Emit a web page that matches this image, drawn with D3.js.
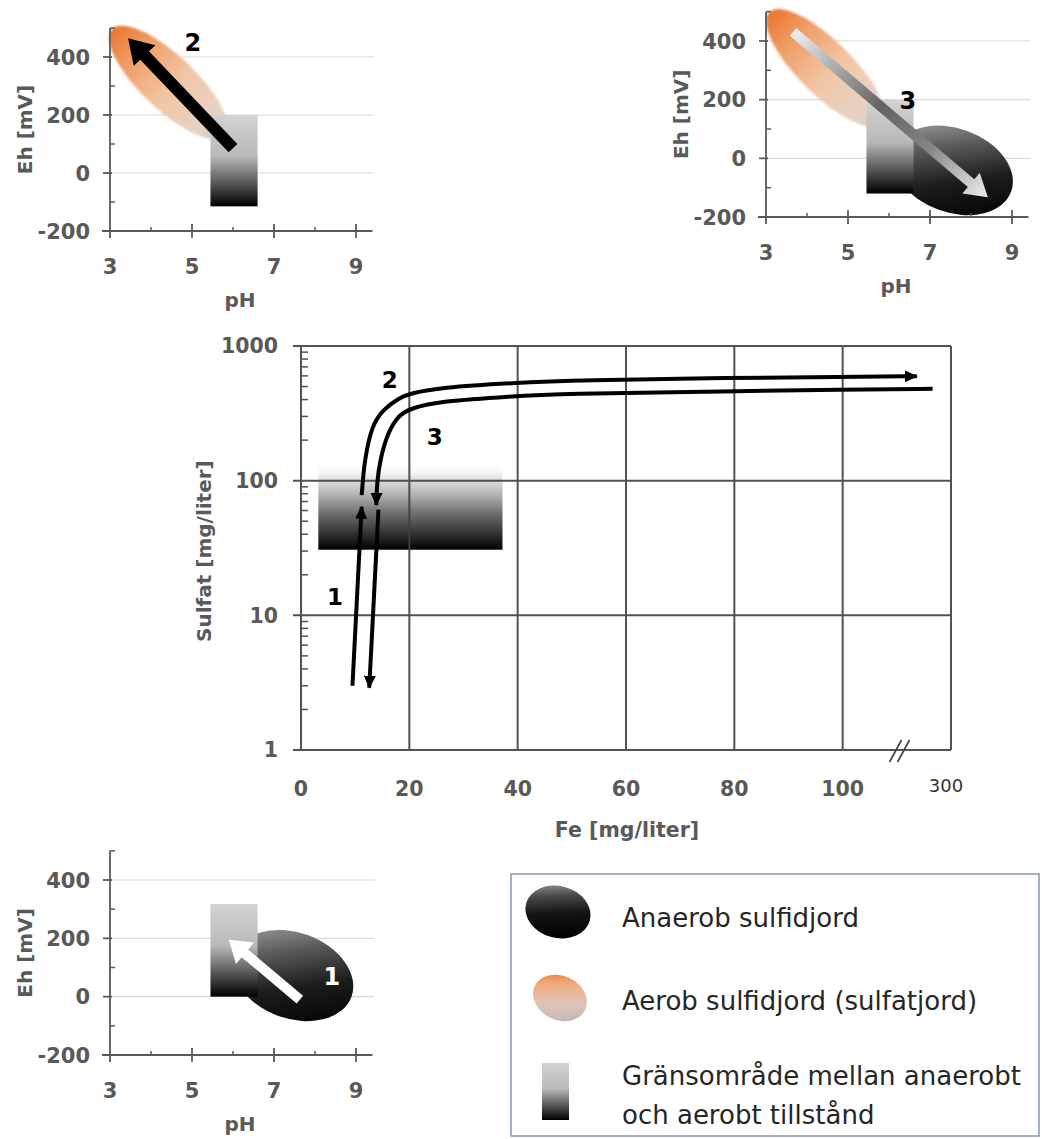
<!DOCTYPE html>
<html>
<head>
<meta charset="utf-8">
<script src="https://cdn.jsdelivr.net/npm/d3@7"></script>
<style>
  body { margin: 0; background: #fff; }
  svg { display: block; }
</style>
</head>
<body>
<div id="chart"></div>
<script>
// ---------- data ----------
// Eh-pH panels
const phTicks = [3, 5, 7, 9];
const phMinor = [4, 6, 8];
const ehTicks = [-200, 0, 200, 400];
const ehMinor = [-100, 100, 300, 500];
const ehGrid = [0, 200, 400];

// grey transition zone per panel: [pH min, pH max, Eh min, Eh max]
const zone2 = [5.45, 6.6, -115, 200];
const zone3 = [5.45, 6.6, -120, 200];
const zone1 = [5.45, 6.6, 0, 318];

// soil ellipses, given as the two ends of the long axis [pH, Eh]
const aerob2 = [[3.05, 496], [5.8, 128]];
const aerob3 = [[3.08, 498], [5.82, 118]];
const anaerob3 = [[6.14, 31], [8.98, -113]];
const anaerob1 = [[6.04, 145], [8.89, 0]];

// arrows [from, to] in [pH, Eh]
const arrow2 = [[6.0, 86], [3.44, 465]];
const arrow3 = [[3.66, 431], [8.41, -133]];
const arrow1 = [[7.63, -10], [5.9, 195]];

// step labels [pH, Eh]
const label2 = [5.02, 452];
const label3 = [6.46, 198];
const label1 = [8.41, 68];

// main chart: Fe vs sulfate
const feTicks = [0, 20, 40, 60, 80, 100];
const feBreak = 120;          // axis position shown as "300"
const feBreakLabel = "300";
const sulfatTicks = [1, 10, 100, 1000];
const zoneMain = [3.2, 37.2, 30.7, 135]; // Fe min, Fe max, S min, S max

const path1 = [[9.5, 3.0], [11.2, 64]];
const path2 = [[11.2, 78], [11.5, 110], [11.8, 143], [13.0, 253], [15.1, 337], [18.2, 414], [20.1, 443],
  [25.6, 491], [39.1, 532], [51.4, 557], [79.6, 580], [99.9, 588], [113.7, 597]];
const path3 = [[116.6, 481], [99.9, 476], [79.6, 461], [47.7, 441], [39.1, 424], [25.6, 389],
  [20.1, 343], [18.0, 305], [16.0, 227], [14.6, 143], [14.0, 95], [13.9, 66]];
const path3b = [[14.3, 61], [12.6, 2.9]];
const mainLabels = [["2", 16.4, 563], ["3", 24.7, 212], ["1", 6.3, 13.7]];

const legendItems = ["Anaerob sulfidjord", "Aerob sulfidjord (sulfatjord)",
  "Gränsområde mellan anaerobt", "och aerobt tillstånd"];

// ---------- setup ----------
const W = 1042, H = 1139;
const svg = d3.select("#chart").append("svg").attr("width", W).attr("height", H);
const defs = svg.append("defs");
const FONT = "'DejaVu Sans', sans-serif";
const GREY = "#595959";

function grad(id, stops, x2 = 0, y2 = 1, x1 = 0, y1 = 0) {
  const g = defs.append("linearGradient").attr("id", id)
    .attr("x1", x1).attr("y1", y1).attr("x2", x2).attr("y2", y2);
  stops.forEach(s => g.append("stop").attr("offset", s[0])
    .attr("stop-color", s[1]).attr("stop-opacity", s[2] == null ? 1 : s[2]));
}
grad("zoneGrad", [[0, "#d3d3d3"], [0.45, "#b9b9b9"], [0.75, "#555"], [1, "#000"]]);
grad("orangeGrad", [[0, "#e9762d"], [0.25, "#f0a06a"], [0.55, "#f2c6a6"], [0.85, "#e6d3c6"], [1, "#dac9bf"]], 1, 0);
grad("orangeLegGrad", [[0, "#ee8444"], [0.25, "#f0ad84"], [0.65, "#dcc4b9"], [1, "#c4b8b5"]], 0.75, 0.95, 0.2, 0.05);
grad("blackGrad", [[0, "#a6a6a6"], [0.3, "#5a5a5a"], [0.6, "#1c1c1c"], [1, "#000"]], 0.9, 1, 0.1, 0);
grad("blackLegGrad", [[0, "#9a9a9a"], [0.25, "#4a4a4a"], [0.55, "#151515"], [1, "#000"]], 0.6, 1, 0.2, 0);
grad("mainZoneGrad", [[0, "#ffffff", 0], [0.18, "#d6d6d6", 0.75], [0.55, "#777", 1], [1, "#000", 1]]);

defs.append("filter").attr("id", "soft").attr("x", -0.2).attr("y", -0.2)
  .attr("width", 1.4).attr("height", 1.4)
  .append("feGaussianBlur").attr("stdDeviation", 0.9);

function arrowPath(x1, y1, x2, y2, w, hw, hl) {
  const dx = x2 - x1, dy = y2 - y1, L = Math.hypot(dx, dy);
  const ux = dx / L, uy = dy / L, px = -uy, py = ux;
  const bx = x2 - ux * hl, by = y2 - uy * hl;
  const pts = [
    [x1 + px * w / 2, y1 + py * w / 2], [bx + px * w / 2, by + py * w / 2],
    [bx + px * hw / 2, by + py * hw / 2], [x2, y2],
    [bx - px * hw / 2, by - py * hw / 2], [bx - px * w / 2, by - py * w / 2],
    [x1 - px * w / 2, y1 - py * w / 2]];
  return "M" + pts.map(p => p.join(",")).join("L") + "Z";
}

// ---------- Eh-pH panels ----------
function panel(x0, yBottom, y400) {
  const x = d3.scaleLinear().domain([3, 9]).range([x0, x0 + 246]);
  const y = d3.scaleLinear().domain([-200, 400]).range([yBottom, y400]);
  const g = svg.append("g");
  const shapes = g.append("g");
  const axes = g.append("g");

  // grid
  g.insert("g", ":first-child").selectAll("line").data(ehGrid).join("line")
    .attr("x1", x(3) + 2).attr("x2", x(9.45)).attr("y1", d => y(d)).attr("y2", d => y(d))
    .attr("stroke", "#d9d9d9").attr("stroke-width", 1.2);

  // axes
  axes.append("line").attr("x1", x(3)).attr("x2", x(3)).attr("y1", y(500)).attr("y2", y(-200) + 7)
    .attr("stroke", GREY).attr("stroke-width", 1.8);
  axes.append("line").attr("x1", x(3) - 8).attr("x2", x(9.4)).attr("y1", y(-200)).attr("y2", y(-200))
    .attr("stroke", GREY).attr("stroke-width", 1.8);
  axes.selectAll(".yt").data(ehTicks).join("line")
    .attr("x1", x(3) - 7).attr("x2", x(3) + 2).attr("y1", d => y(d)).attr("y2", d => y(d))
    .attr("stroke", GREY).attr("stroke-width", 1.8);
  axes.selectAll(".ym").data(ehMinor).join("line")
    .attr("x1", x(3)).attr("x2", x(3) + 5).attr("y1", d => y(d)).attr("y2", d => y(d))
    .attr("stroke", GREY).attr("stroke-width", 1.5);
  axes.selectAll(".xt").data(phTicks.slice(1)).join("line")
    .attr("x1", d => x(d)).attr("x2", d => x(d)).attr("y1", y(-200) - 7).attr("y2", y(-200) + 7)
    .attr("stroke", GREY).attr("stroke-width", 1.8);
  axes.selectAll(".xm").data(phMinor).join("line")
    .attr("x1", d => x(d)).attr("x2", d => x(d)).attr("y1", y(-200) - 4).attr("y2", y(-200))
    .attr("stroke", GREY).attr("stroke-width", 1.5);

  axes.selectAll(".yl").data(ehTicks).join("text")
    .attr("x", x(3) - 20).attr("y", d => y(d)).attr("dy", "0.36em")
    .attr("text-anchor", "end").attr("font-family", FONT).attr("font-weight", "bold")
    .attr("font-size", 21).attr("fill", GREY).text(d => d);
  axes.selectAll(".xl").data(phTicks).join("text")
    .attr("x", d => x(d)).attr("y", y(-200) + 43)
    .attr("text-anchor", "middle").attr("font-family", FONT).attr("font-weight", "bold")
    .attr("font-size", 21).attr("fill", GREY).text(d => d);
  axes.append("text").attr("x", x(3) + 130).attr("y", y(-200) + 76)
    .attr("text-anchor", "middle").attr("font-family", FONT).attr("font-weight", "bold")
    .attr("font-size", 20).attr("fill", GREY).text("pH");
  axes.append("text")
    .attr("transform", `translate(${x(3) - 78},${y(150)}) rotate(-90)`)
    .attr("text-anchor", "middle").attr("font-family", FONT).attr("font-weight", "bold")
    .attr("font-size", 20).attr("fill", GREY).text("Eh [mV]");

  return { x, y, shapes, g };
}

function ellipse(p, ends, ry, fill, soft) {
  const a = [p.x(ends[0][0]), p.y(ends[0][1])], b = [p.x(ends[1][0]), p.y(ends[1][1])];
  const cx = (a[0] + b[0]) / 2, cy = (a[1] + b[1]) / 2;
  const rx = Math.hypot(b[0] - a[0], b[1] - a[1]) / 2;
  const ang = Math.atan2(b[1] - a[1], b[0] - a[0]) * 180 / Math.PI;
  p.shapes.append("ellipse").attr("cx", 0).attr("cy", 0).attr("rx", rx).attr("ry", ry)
    .attr("transform", `translate(${cx},${cy}) rotate(${ang})`)
    .attr("fill", fill).attr("filter", soft ? "url(#soft)" : null);
}
function zone(p, z) {
  p.shapes.append("rect").attr("x", p.x(z[0])).attr("width", p.x(z[1]) - p.x(z[0]))
    .attr("y", p.y(z[3])).attr("height", p.y(z[2]) - p.y(z[3])).attr("fill", "url(#zoneGrad)");
}
function arrow(p, a, w, hw, hl, fill) {
  return p.shapes.append("path")
    .attr("d", arrowPath(p.x(a[0][0]), p.y(a[0][1]), p.x(a[1][0]), p.y(a[1][1]), w, hw, hl))
    .attr("fill", fill);
}
function stepLabel(p, l, txt, color) {
  p.shapes.append("text").attr("x", p.x(l[0])).attr("y", p.y(l[1])).attr("dy", "0.36em")
    .attr("text-anchor", "middle").attr("font-family", FONT).attr("font-weight", "bold")
    .attr("font-size", 24).attr("fill", color).text(txt);
}

// panel 2 (top left)
const pA = panel(110, 231, 57);
ellipse(pA, aerob2, 27, "url(#orangeGrad)", true);
zone(pA, zone2);
arrow(pA, arrow2, 12, 30, 24, "#000");
stepLabel(pA, label2, "2", "#000");

// panel 3 (top right)
const pB = panel(766, 217, 41);
ellipse(pB, aerob3, 27, "url(#orangeGrad)", true);
ellipse(pB, anaerob3, 42, "url(#blackGrad)", false);
zone(pB, zone3);
{
  const g3 = defs.append("linearGradient").attr("id", "arrow3Grad").attr("gradientUnits", "userSpaceOnUse")
    .attr("x1", pB.x(arrow3[0][0])).attr("y1", pB.y(arrow3[0][1]))
    .attr("x2", pB.x(arrow3[1][0])).attr("y2", pB.y(arrow3[1][1]));
  [[0, "#efefef"], [0.45, "#626262"], [0.7, "#858585"], [1, "#eeeeee"]].forEach(s =>
    g3.append("stop").attr("offset", s[0]).attr("stop-color", s[1]));
}
arrow(pB, arrow3, 10, 27, 22, "url(#arrow3Grad)");
stepLabel(pB, label3, "3", "#000");

// panel 1 (bottom left)
const pC = panel(110, 1055, 880);
ellipse(pC, anaerob1, 43, "url(#blackGrad)", false);
zone(pC, zone1);
arrow(pC, arrow1, 10, 28, 21, "#fff");
stepLabel(pC, label1, "1", "#fff");

// ---------- main chart ----------
const mx = d3.scaleLinear().domain([0, 120]).range([301, 951]);
const my = d3.scaleLog().domain([1, 1000]).range([750, 346]);
const LINE = "#404040";
const main = svg.append("g");

main.append("rect").attr("x", mx(zoneMain[0])).attr("width", mx(zoneMain[1]) - mx(zoneMain[0]))
  .attr("y", my(zoneMain[3])).attr("height", my(zoneMain[2]) - my(zoneMain[3]))
  .attr("fill", "url(#mainZoneGrad)");

const gridG = main.append("g").attr("stroke", LINE).attr("stroke-width", 2).attr("opacity", 0.9);
gridG.selectAll(".v").data(feTicks.slice(1).concat([feBreak])).join("line")
  .attr("x1", d => mx(d)).attr("x2", d => mx(d)).attr("y1", my(1000)).attr("y2", my(1));
gridG.selectAll(".h").data(sulfatTicks).join("line")
  .attr("x1", mx(0) - 8).attr("x2", mx(feBreak)).attr("y1", d => my(d)).attr("y2", d => my(d));
gridG.append("line").attr("x1", mx(0)).attr("x2", mx(0)).attr("y1", my(1000)).attr("y2", my(1));
const minor = [];
[1, 10, 100].forEach(d => d3.range(2, 10).forEach(k => minor.push(d * k)));
gridG.selectAll(".m").data(minor).join("line")
  .attr("x1", mx(0)).attr("x2", mx(0) + 7).attr("y1", d => my(d)).attr("y2", d => my(d))
  .attr("stroke-width", 1.5);

// break mark
const bx = mx(110.5);
[-4, 4].forEach(o => main.append("line")
  .attr("x1", bx + o - 6).attr("y1", my(1) + 12).attr("x2", bx + o + 6).attr("y2", my(1) - 10)
  .attr("stroke", LINE).attr("stroke-width", 1.6));

main.selectAll(".yl").data(sulfatTicks).join("text")
  .attr("x", mx(0) - 23).attr("y", d => my(d)).attr("dy", "0.36em").attr("text-anchor", "end")
  .attr("font-family", FONT).attr("font-weight", "bold").attr("font-size", 20.5).attr("fill", GREY)
  .text(d => d);
main.selectAll(".xl").data(feTicks).join("text")
  .attr("x", d => mx(d)).attr("y", my(1) + 46).attr("text-anchor", "middle")
  .attr("font-family", FONT).attr("font-weight", "bold").attr("font-size", 20.5).attr("fill", GREY)
  .text(d => d);
main.append("text").attr("x", mx(feBreak) - 5).attr("y", my(1) + 42).attr("text-anchor", "middle")
  .attr("font-family", FONT).attr("font-size", 18).attr("fill", "#333").text(feBreakLabel);
main.append("text").attr("x", 627).attr("y", 837).attr("text-anchor", "middle")
  .attr("font-family", FONT).attr("font-weight", "bold").attr("font-size", 20.5).attr("fill", GREY)
  .text("Fe [mg/liter]");
main.append("text").attr("transform", `translate(211,${my(30)}) rotate(-90)`)
  .attr("text-anchor", "middle").attr("font-family", FONT).attr("font-weight", "bold")
  .attr("font-size", 20).attr("fill", GREY).text("Sulfat [mg/liter]");

defs.append("marker").attr("id", "head").attr("markerUnits", "userSpaceOnUse")
  .attr("markerWidth", 16).attr("markerHeight", 14).attr("refX", 12).attr("refY", 6)
  .attr("orient", "auto").append("path").attr("d", "M0,0L13,6L0,12Z").attr("fill", "#000");

const line = d3.line().curve(d3.curveBasis).x(d => mx(d[0])).y(d => my(d[1]));
// [points, has arrow head]
const curves = [[path1, true], [path2, true], [path3, true], [path3b, true]];
main.selectAll(".curve").data(curves).join("path")
  .attr("d", d => line(d[0])).attr("fill", "none").attr("stroke", "#000")
  .attr("stroke-width", 4).attr("stroke-linecap", "butt")
  .attr("marker-end", d => d[1] ? "url(#head)" : null);

main.selectAll(".ml").data(mainLabels).join("text")
  .attr("x", d => mx(d[1])).attr("y", d => my(d[2])).attr("dy", "0.36em").attr("text-anchor", "middle")
  .attr("font-family", FONT).attr("font-weight", "bold").attr("font-size", 23).attr("fill", "#000")
  .text(d => d[0]);

// ---------- legend ----------
const leg = svg.append("g");
leg.append("rect").attr("x", 511).attr("y", 874).attr("width", 528).attr("height", 262)
  .attr("fill", "#fff").attr("stroke", "#8497b0").attr("stroke-width", 1.5);
leg.append("ellipse").attr("cx", 558).attr("cy", 912).attr("rx", 33).attr("ry", 26)
  .attr("transform", "rotate(15,558,912)").attr("fill", "url(#blackLegGrad)");
leg.append("ellipse").attr("cx", 560).attr("cy", 998).attr("rx", 28).attr("ry", 22)
  .attr("transform", "rotate(25,560,998)").attr("fill", "url(#orangeLegGrad)");
leg.append("rect").attr("x", 542).attr("y", 1063).attr("width", 27).attr("height", 57)
  .attr("fill", "url(#zoneGrad)");
leg.selectAll(".lt").data(legendItems).join("text")
  .attr("x", 622).attr("y", (d, i) => [927, 1010, 1085, 1124][i])
  .attr("font-family", FONT).attr("font-size", 26).attr("fill", "#262626").text(d => d);
</script>
</body>
</html>
